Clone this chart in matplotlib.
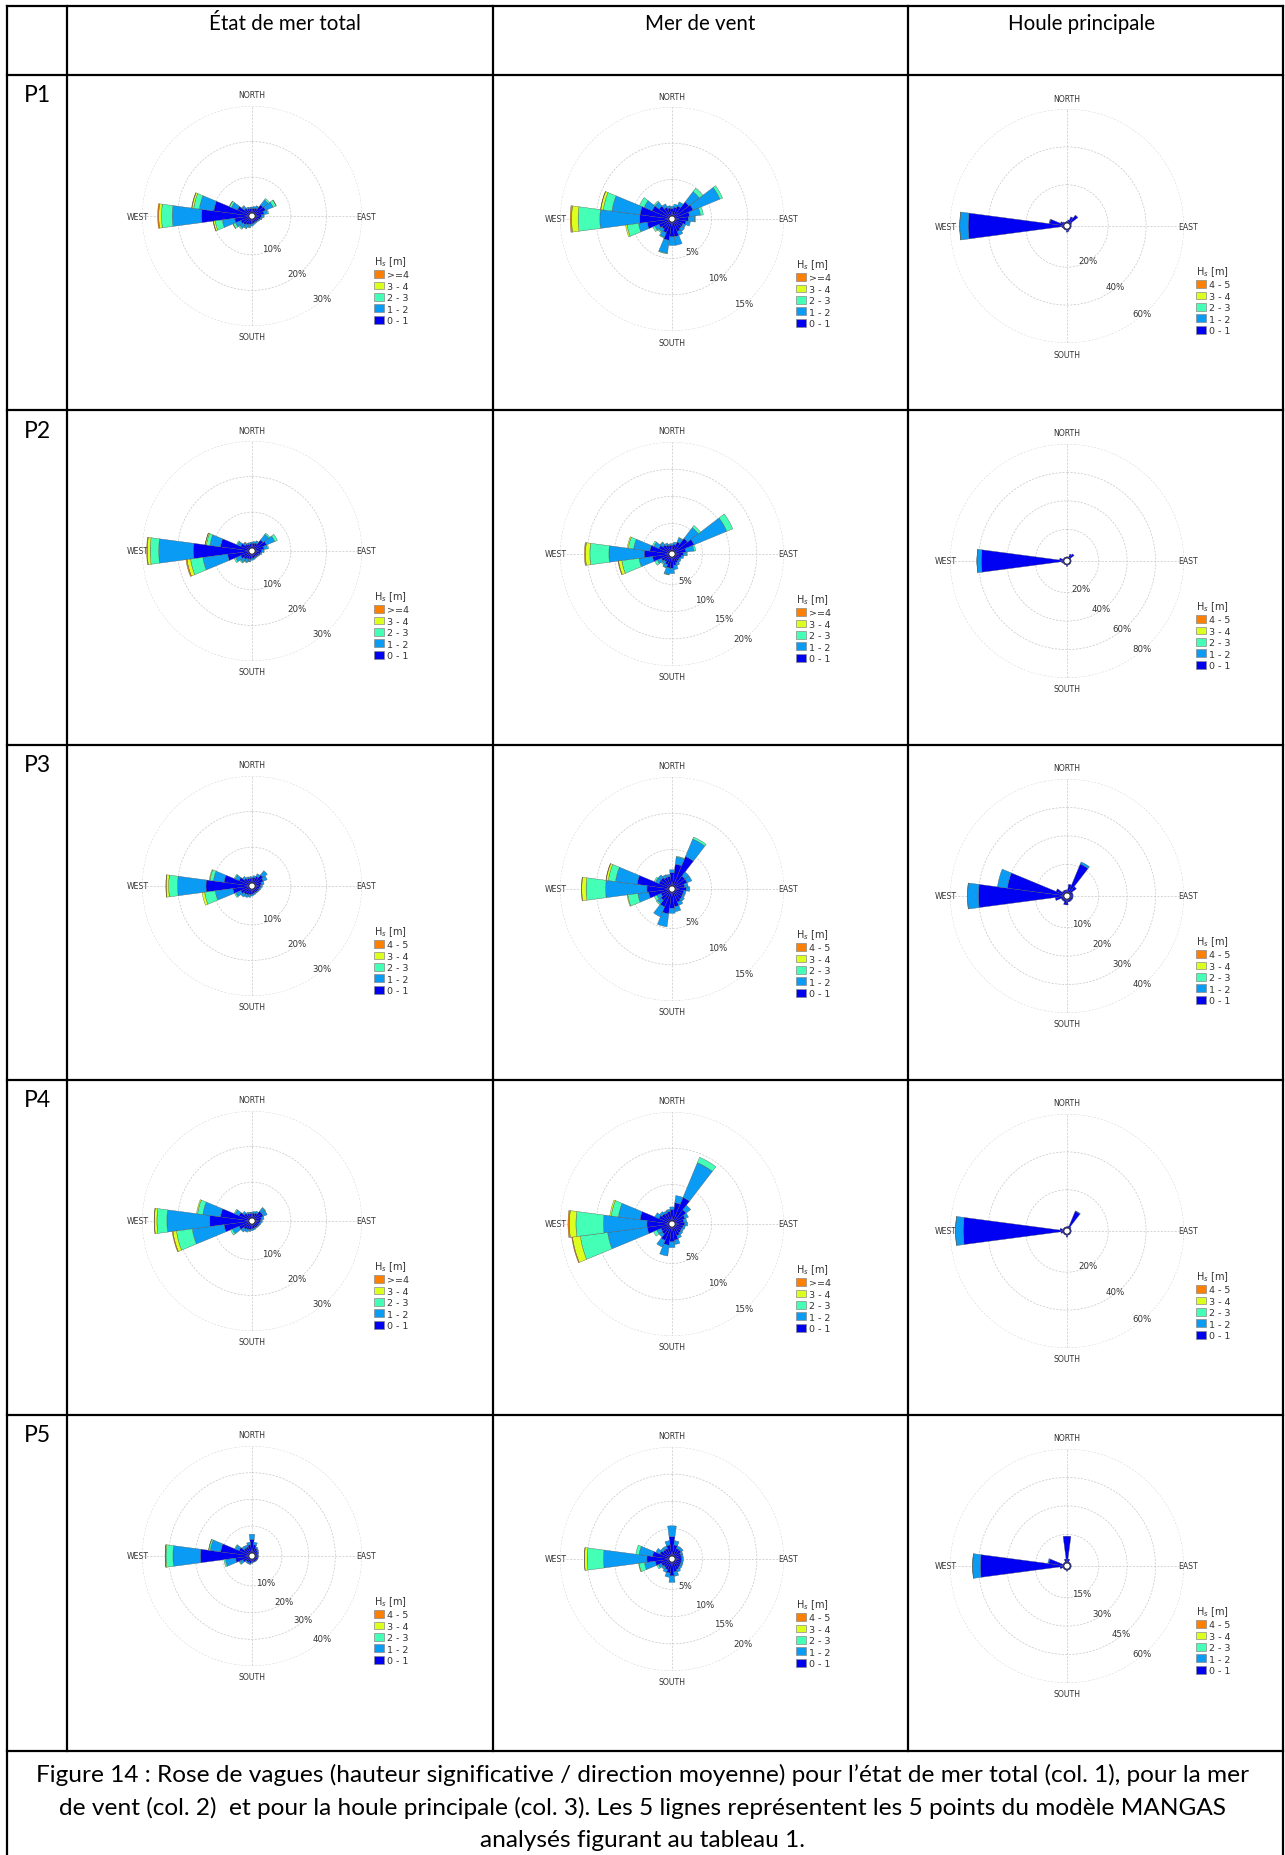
import numpy as np
import matplotlib

matplotlib.use("Agg")
import matplotlib.pyplot as plt  # noqa: E402
from matplotlib.lines import Line2D  # noqa: E402
from matplotlib.patches import Patch  # noqa: E402

W, H, DPI = 1285, 1856, 100

# 24 direction sectors of 15 deg (compass, clockwise from north)
DIRS = np.arange(0, 360, 15)


def sector(mapping, default=0.0):
    """sparse {direction: percent} -> 24 values"""
    return [mapping.get(int(d), default) for d in DIRS]


HEADERS = ["État de mer total", "Mer de vent", "Houle principale"]
ROW_LABELS = ["P1", "P2", "P3", "P4", "P5"]
CAPTION = [
    "Figure 14 : Rose de vagues (hauteur significative / direction moyenne) pour l’état de mer total (col. 1), pour la mer",
    "de vent (col. 2)  et pour la houle principale (col. 3). Les 5 lignes représentent les 5 points du modèle MANGAS",
    "analysés figurant au tableau 1.",
]
COLORS = ["#0000f2", "#0a9cf5", "#44ffb6", "#dcff1e", "#ff7f00"]
BINS_GE4 = ["0 - 1", "1 - 2", "2 - 3", "3 - 4", ">=4"]
BINS_45 = ["0 - 1", "1 - 2", "2 - 3", "3 - 4", "4 - 5"]

# ---- column 1 : état de mer total (percent per sector, per Hs bin) ----
TOTAL_P1 = [
    [1.2, 1.3, 1.5, 3.0, 3.2, 2.5, 1.8, 1.5, 1.2, 1.0, 1.0, 1.1, 1.3, 1.5, 1.8, 2.2, 2.5, 4.0, 13.3, 9.9, 3.5, 1.8, 1.3, 1.2],
    [0.4, 0.5, 0.6, 1.8, 2.3, 1.0, 0.6, 0.5, 0.3, 0.3, 0.3, 0.4, 0.6, 0.8, 1.0, 1.2, 1.6, 3.5, 8.2, 4.1, 1.8, 0.8, 0.5, 0.4],
    sector({30: 0.1, 45: 0.5, 60: 0.9, 75: 0.3, 90: 0.1, 195: 0.1, 210: 0.2, 225: 0.4, 240: 0.7, 255: 2.0, 270: 3.0, 285: 1.6, 300: 0.6, 315: 0.2}),
    sector({60: 0.1, 240: 0.1, 255: 0.5, 270: 0.8, 285: 0.5, 300: 0.1}),
    sector({255: 0.1, 270: 0.3, 285: 0.1}),
]
TOTAL_P2 = [
    [1.2, 1.3, 1.5, 3.0, 3.5, 2.5, 1.8, 1.5, 1.2, 1.0, 1.0, 1.1, 1.2, 1.4, 1.6, 2.0, 2.5, 6.0, 15.6, 8.0, 2.5, 1.5, 1.2, 1.1],
    [0.4, 0.5, 0.6, 2.0, 2.5, 1.0, 0.6, 0.4, 0.3, 0.3, 0.3, 0.4, 0.5, 0.7, 0.9, 1.1, 1.5, 7.0, 9.7, 3.0, 1.0, 0.6, 0.4, 0.4],
    sector({30: 0.1, 45: 0.4, 60: 0.8, 75: 0.3, 90: 0.1, 195: 0.1, 210: 0.2, 225: 0.3, 240: 0.5, 255: 3.5, 270: 2.4, 285: 1.0, 300: 0.3, 315: 0.1}),
    sector({255: 1.0, 270: 0.8, 285: 0.3}),
    sector({255: 0.3, 270: 0.2, 285: 0.05}),
]
TOTAL_P3 = [
    [1.3, 1.5, 2.0, 3.0, 2.5, 1.8, 1.5, 1.3, 1.2, 1.1, 1.1, 1.2, 1.4, 1.6, 1.8, 2.0, 2.5, 4.5, 12.0, 7.0, 3.0, 1.8, 1.4, 1.3],
    [0.4, 0.5, 0.8, 1.5, 1.2, 0.7, 0.5, 0.4, 0.3, 0.3, 0.3, 0.4, 0.5, 0.7, 0.8, 1.0, 1.5, 5.0, 8.0, 3.0, 1.2, 0.7, 0.5, 0.4],
    sector({240: 0.4, 255: 3.0, 270: 2.5, 285: 1.0, 300: 0.3}),
    sector({255: 0.7, 270: 0.7, 285: 0.2}),
    sector({270: 0.1}),
]
TOTAL_P4 = [
    [1.2, 1.3, 1.5, 2.5, 2.5, 1.8, 1.5, 1.3, 1.2, 1.1, 1.1, 1.2, 1.3, 1.5, 1.7, 2.0, 3.0, 7.0, 11.0, 8.0, 3.0, 1.8, 1.3, 1.2],
    [0.4, 0.5, 0.6, 1.2, 1.2, 0.7, 0.5, 0.4, 0.3, 0.3, 0.3, 0.4, 0.5, 0.6, 0.8, 1.0, 2.0, 9.0, 12.0, 5.0, 1.2, 0.7, 0.5, 0.4],
    sector({45: 0.2, 240: 0.6, 255: 4.5, 270: 2.8, 285: 1.5, 300: 0.3}),
    sector({255: 1.0, 270: 0.7, 285: 0.3}),
    sector({255: 0.2, 270: 0.1}),
]
TOTAL_P5 = [
    [5.0, 3.0, 2.0, 1.5, 1.3, 1.0, 1.0, 1.0, 1.0, 1.0, 1.0, 1.0, 1.2, 1.5, 1.5, 1.5, 2.5, 5.0, 18.1, 10.6, 4.0, 2.5, 2.5, 3.0],
    [1.9, 1.0, 0.5, 0.5, 0.3, 0.2, 0.2, 0.2, 0.2, 0.2, 0.2, 0.2, 0.3, 0.5, 0.5, 0.5, 1.2, 3.8, 10.3, 3.9, 1.5, 1.0, 0.8, 1.0],
    sector({240: 0.3, 255: 0.6, 270: 2.6, 285: 0.6, 300: 0.3}),
    sector({270: 0.3, 285: 0.1}),
    sector({270: 0.05}),
]

# ---- column 2 : mer de vent ----
WIND_P1 = [
    [1.0, 1.2, 1.5, 2.5, 2.7, 2.0, 1.8, 1.5, 1.2, 1.2, 1.4, 2.0, 2.0, 2.5, 1.6, 1.3, 1.5, 3.0, 4.0, 4.0, 2.5, 1.8, 1.3, 1.1],
    [0.3, 0.4, 0.6, 1.8, 4.0, 1.5, 0.9, 0.6, 0.4, 0.5, 0.6, 1.2, 1.2, 1.8, 0.7, 0.5, 0.6, 1.2, 5.5, 3.9, 1.2, 0.7, 0.5, 0.3],
    sector({45: 0.6, 60: 0.4, 75: 0.4, 90: 0.1, 195: 0.1, 210: 0.1, 225: 0.2, 240: 0.3, 255: 1.6, 270: 3.0, 285: 1.2, 300: 0.7, 315: 0.2}),
    sector({255: 0.2, 270: 0.9, 285: 0.35}),
    sector({270: 0.2, 285: 0.05}),
]
WIND_P2 = [
    [1.0, 1.2, 1.8, 3.0, 3.8, 2.0, 1.5, 1.2, 1.0, 1.0, 1.2, 1.5, 2.0, 2.0, 1.5, 1.2, 1.5, 3.0, 4.5, 3.5, 2.0, 1.5, 1.2, 1.0],
    [0.3, 0.4, 0.8, 2.5, 6.5, 1.5, 0.6, 0.4, 0.3, 0.4, 0.5, 0.8, 1.0, 1.2, 0.6, 0.5, 0.8, 2.5, 6.5, 3.0, 1.0, 0.6, 0.4, 0.3],
    sector({30: 0.1, 45: 0.5, 60: 1.2, 75: 0.3, 90: 0.1, 195: 0.1, 210: 0.1, 225: 0.2, 240: 0.5, 255: 3.2, 270: 3.5, 285: 1.0, 300: 0.3, 315: 0.1}),
    sector({255: 0.6, 270: 0.8, 285: 0.2}),
    sector({255: 0.1, 270: 0.2}),
]
WIND_P3 = [
    [1.8, 3.0, 4.4, 1.8, 1.8, 1.3, 1.5, 1.2, 1.2, 1.3, 1.5, 2.0, 2.2, 3.0, 2.2, 1.5, 1.2, 2.8, 3.0, 4.4, 1.5, 1.5, 1.3, 1.3],
    [0.4, 1.0, 2.6, 0.7, 0.7, 0.5, 0.5, 0.3, 0.3, 0.4, 0.5, 0.7, 0.7, 1.8, 1.5, 0.6, 0.6, 1.5, 5.7, 3.0, 0.5, 0.5, 0.4, 0.3],
    sector({15: 0.1, 30: 0.3, 225: 0.2, 240: 0.4, 255: 1.4, 270: 2.7, 285: 1.0, 300: 0.2}),
    sector({255: 0.1, 270: 0.6, 285: 0.3}),
    sector({270: 0.05, 285: 0.05}),
]
WIND_P4 = [
    [1.5, 2.5, 3.5, 2.0, 1.5, 1.2, 1.3, 1.1, 1.0, 1.1, 1.3, 1.8, 2.0, 2.5, 2.0, 1.3, 1.2, 3.0, 3.0, 4.0, 1.5, 1.3, 1.2, 1.3],
    [0.4, 1.0, 5.2, 0.8, 0.5, 0.4, 0.4, 0.3, 0.3, 0.3, 0.4, 0.6, 0.8, 1.5, 1.0, 0.5, 0.6, 5.5, 6.0, 3.0, 0.6, 0.4, 0.3, 0.3],
    sector({30: 0.8, 240: 0.5, 255: 3.8, 270: 3.8, 285: 1.0}),
    sector({255: 1.1, 270: 0.9, 285: 0.2}),
    sector({255: 0.1, 270: 0.2}),
]
WIND_P5 = [
    [3.5, 2.0, 1.5, 1.5, 1.2, 1.2, 1.2, 1.2, 1.2, 1.3, 1.5, 1.8, 2.5, 2.0, 1.5, 1.3, 1.5, 2.5, 4.0, 3.0, 1.8, 1.5, 1.5, 2.0],
    [2.0, 0.8, 0.5, 0.5, 0.4, 0.3, 0.3, 0.3, 0.4, 0.4, 0.5, 0.8, 1.2, 0.8, 0.6, 0.5, 0.6, 2.0, 8.0, 2.5, 0.8, 0.5, 0.5, 0.8],
    sector({240: 0.3, 255: 1.0, 270: 3.0, 285: 0.6}),
    sector({255: 0.1, 270: 0.5}),
    sector({270: 0.05}),
]

# ---- column 3 : houle principale ----
SWELL_P1 = [
    sector({0: 0.8, 15: 1.5, 30: 3.5, 45: 5.5, 60: 1.0, 165: 1.2, 180: 1.5, 255: 1.0, 270: 50.4, 285: 7.5, 300: 2.0, 315: 1.0}, 0.5),
    sector({270: 4.4, 285: 0.3}),
    sector({270: 0.1}),
    sector({}),
    sector({}),
]
SWELL_P2 = [
    sector({30: 3.0, 45: 4.0, 180: 1.5, 255: 1.5, 270: 58.0, 285: 3.0}, 0.6),
    sector({270: 3.0}),
    sector({270: 0.1}),
    sector({}),
    sector({}),
]
SWELL_P3 = [
    sector({15: 3.0, 30: 11.0, 45: 3.0, 180: 2.0, 195: 2.0, 255: 3.0, 270: 30.0, 285: 20.0, 300: 3.0}, 1.0),
    sector({30: 0.8, 270: 3.8, 285: 3.5}),
    sector({270: 0.1}),
    sector({}),
    sector({}),
]
SWELL_P4 = [
    sector({15: 1.0, 30: 9.5, 45: 1.0, 180: 1.5, 255: 1.5, 270: 53.0, 285: 2.0}, 0.5),
    sector({30: 0.3, 270: 4.0}),
    sector({270: 0.1}),
    sector({}),
    sector({}),
]
SWELL_P5 = [
    sector({0: 14.0, 15: 2.0, 180: 1.0, 255: 2.0, 270: 44.0, 285: 8.0, 345: 2.0}, 0.5),
    sector({270: 4.0, 285: 0.5}),
    sector({270: 0.1}),
    sector({}),
    sector({}),
]

PANELS = [
    [TOTAL_P1, WIND_P1, SWELL_P1],
    [TOTAL_P2, WIND_P2, SWELL_P2],
    [TOTAL_P3, WIND_P3, SWELL_P3],
    [TOTAL_P4, WIND_P4, SWELL_P4],
    [TOTAL_P5, WIND_P5, SWELL_P5],
]
RINGS = [
    [[10, 20, 30], [5, 10, 15], [20, 40, 60]],
    [[10, 20, 30], [5, 10, 15, 20], [20, 40, 60, 80]],
    [[10, 20, 30], [5, 10, 15], [10, 20, 30, 40]],
    [[10, 20, 30], [5, 10, 15], [20, 40, 60]],
    [[10, 20, 30, 40], [5, 10, 15, 20], [15, 30, 45, 60]],
]
LEGEND_BINS = [
    [BINS_GE4, BINS_GE4, BINS_45],
    [BINS_GE4, BINS_GE4, BINS_45],
    [BINS_45, BINS_45, BINS_45],
    [BINS_GE4, BINS_GE4, BINS_45],
    [BINS_45, BINS_45, BINS_45],
]

# ---- table geometry (pixels) ----
XS = [7, 67, 493, 908, 1283]
YS = [7, 76, 411, 746, 1081, 1416, 1752]
CX = [252, 672, 1067]          # rose centre per column
CY_OFF = [141, 144, 151]       # rose centre below row top
RAD = [110, 112, 117]          # outer ring radius
HOLE = 3.3                     # empty centre radius

TEXT_FONT = ["Lato", "DejaVu Sans"]

fig = plt.figure(figsize=(W / DPI, H / DPI), dpi=DPI)
fig.patch.set_facecolor("white")
bg = fig.add_axes([0, 0, 1, 1])
bg.set_xlim(0, W)
bg.set_ylim(H, 0)
bg.axis("off")

lw = 1.6
for y in YS:
    bg.add_line(Line2D([XS[0], XS[-1]], [y, y], color="black", lw=lw))
for x in XS:
    bottom = YS[-1] if x in XS[1:-1] else H
    bg.add_line(Line2D([x, x], [YS[0], bottom], color="black", lw=lw))

header_x = [285, 700, 1082]
for hx, txt in zip(header_x, HEADERS):
    bg.text(hx, 24, txt, ha="center", va="center", fontsize=14.8, family=TEXT_FONT)
for i, lab in enumerate(ROW_LABELS):
    bg.text(37, YS[i + 1] + 20, lab, ha="center", va="center", fontsize=16.5, family=TEXT_FONT)
for i, line in enumerate(CAPTION):
    bg.text(W / 2, 1775 + 33 * i, line, ha="center", va="center", fontsize=17.6, family=TEXT_FONT)


def draw_rose(row, col):
    bins = PANELS[row][col]
    rings = RINGS[row][col]
    rmax = rings[-1]
    R = RAD[col]
    cx, cy = CX[col], YS[row + 1] + CY_OFF[col]
    ax = fig.add_axes([(cx - R) / W, 1 - (cy + R) / H, 2 * R / W, 2 * R / H], projection="polar")
    ax.set_facecolor("none")
    ax.set_theta_zero_location("N")
    ax.set_theta_direction(-1)
    hole = rmax * HOLE / (R - HOLE)
    ax.set_rorigin(-hole)
    ax.set_ylim(0, rmax)

    theta = np.deg2rad(DIRS)
    base = np.zeros(len(DIRS))
    for vals, color in zip(bins, COLORS):
        vals = np.asarray(vals, float)
        m = vals > 0
        if m.any():
            ax.bar(theta[m], vals[m], width=np.deg2rad(15), bottom=base[m], color=color,
                   edgecolor="#505050", linewidth=0.25, align="center", zorder=3)
        base += vals

    ax.set_xticks(np.deg2rad([0, 90, 180, 270]))
    ax.set_xticklabels([])
    ax.set_yticks(rings)
    ax.set_yticklabels([])
    ax.grid(True, color="#c6c6c6", linestyle=(0, (3, 2)), linewidth=0.5)
    ax.spines["polar"].set_visible(False)
    ax.tick_params(length=0)

    fs = 5.6
    off_ns = R + 11
    off_ew = R + 4
    for txt, dx, dy in [("NORTH", 0, -off_ns), ("SOUTH", 0, off_ns), ("EAST", off_ew, 0), ("WEST", -off_ew, 0)]:
        bg.text(cx + dx, cy + dy, txt, ha="center", va="center", fontsize=fs, color="#333333")
    for v in rings:
        ax.annotate(f"{v}%", xy=(np.deg2rad(135), v), xytext=(-8, -5), textcoords="offset pixels",
                    ha="center", va="center", fontsize=fs + 0.6, color="#333333")

    labels = LEGEND_BINS[row][col]
    handles = [Patch(facecolor=c, edgecolor="#8a8a8a", linewidth=0.5) for c in COLORS]
    leg = ax.legend(handles[::-1], labels[::-1], title="H$_s$ [m]", loc="upper left",
                    bbox_to_anchor=(0.5 + (R + 12) / (2 * R), 0.5 - 38 / (2 * R)),
                    frameon=False, fontsize=6.8, title_fontsize=7.0, alignment="left",
                    handlelength=1.1, handleheight=0.9, handletextpad=0.3,
                    labelspacing=0.24, borderpad=0.0, borderaxespad=0.0)
    for t in leg.get_texts():
        t.set_color("#333333")
    leg.get_title().set_color("#333333")


for r in range(5):
    for c in range(3):
        draw_rose(r, c)

fig.savefig("out.png", dpi=DPI, facecolor="white")
